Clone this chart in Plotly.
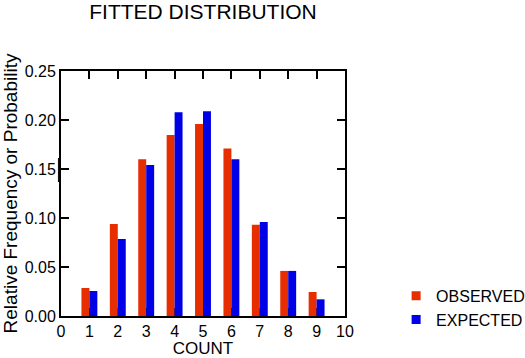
import plotly.graph_objects as go

counts = [1, 2, 3, 4, 5, 6, 7, 8, 9]
observed = [0.0286, 0.0939, 0.160, 0.1847, 0.196, 0.171, 0.093, 0.046, 0.0245]
expected = [0.0255, 0.0786, 0.154, 0.208, 0.209, 0.160, 0.096, 0.046, 0.017]
x_ticks = list(range(0, 11))
y_ticks = [0.0, 0.05, 0.10, 0.15, 0.20, 0.25]

RED = "#e62e00"
BLUE = "#0000e6"
FONT = "Liberation Sans, Arial, sans-serif"

fig = go.Figure()
fig.add_trace(go.Bar(x=counts, y=observed, name="OBSERVED", marker=dict(color=RED, line=dict(width=0)),
                     width=0.28, offset=-0.28, showlegend=False))
fig.add_trace(go.Bar(x=counts, y=expected, name="EXPECTED", marker=dict(color=BLUE, line=dict(width=0)),
                     width=0.28, offset=0.0, showlegend=False))
# legend entries
fig.add_trace(go.Scatter(x=[None], y=[None], mode="markers", name="OBSERVED",
                         marker=dict(symbol="square", size=9, color=RED)))
fig.add_trace(go.Scatter(x=[None], y=[None], mode="markers", name="EXPECTED",
                         marker=dict(symbol="square", size=9, color=BLUE)))

fig.update_layout(
    width=525, height=358,
    margin=dict(l=61, r=180, t=71, b=42, autoexpand=False),
    paper_bgcolor="white", plot_bgcolor="white",
    font=dict(family=FONT, size=16, color="black"),
    title=dict(text="FITTED DISTRIBUTION", x=(61 + 345) / 2 / 525, xanchor="center",
               y=1 - 12 / 358, yanchor="middle", font=dict(size=21, family=FONT)),
    showlegend=True,
    legend=dict(x=1.18, y=-0.085, xanchor="left", yanchor="bottom", bgcolor="rgba(0,0,0,0)",
                font=dict(size=16), tracegroupgap=0, itemwidth=30, traceorder="normal"),
    xaxis=dict(range=[0, 10], tickvals=x_ticks, ticktext=[str(v) for v in x_ticks],
               ticks="inside", ticklen=8, tickwidth=2, tickcolor="black",
               showline=True, linewidth=2, linecolor="black", mirror="ticks",
               showgrid=False, zeroline=False, layer="below traces", automargin=False,
               title=dict(text="COUNT", font=dict(size=17), standoff=6),
               tickfont=dict(size=16)),
    yaxis=dict(range=[0, 0.25], tickvals=y_ticks, tickformat=".2f",
               ticks="inside", ticklen=8, tickwidth=2, tickcolor="black",
               showline=True, linewidth=2, linecolor="black", mirror="ticks",
               showgrid=False, zeroline=False, automargin=False,
               title=dict(text="Relative Frequency or Probability", font=dict(size=19), standoff=4),
               tickfont=dict(size=16)),
)

fig.add_shape(type="line", xref="paper", yref="paper", x0=-0.009, x1=-0.009,
              y0=(316 - 182) / 245, y1=(316 - 158) / 245, line=dict(color="black", width=1))

fig.write_html("out.html", config={"displayModeBar": False},
               post_script="document.body.style.margin='0';document.body.style.overflow='hidden';")
